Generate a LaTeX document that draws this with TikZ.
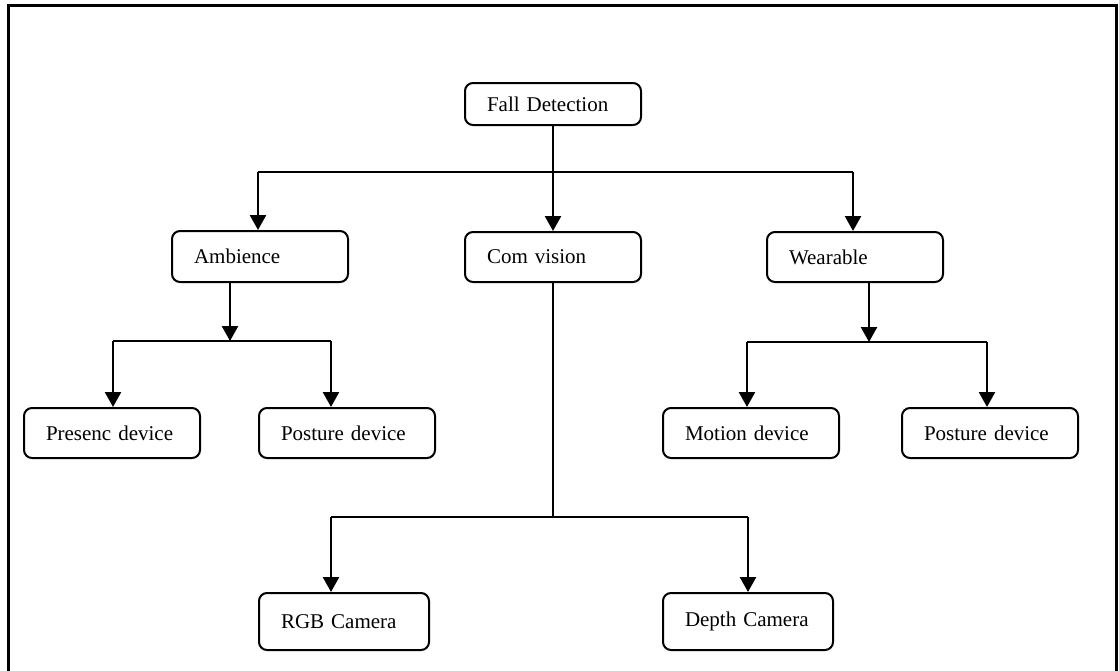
\documentclass[tikz,border=0pt]{standalone}
\usepackage{fontspec}
\setmainfont{Liberation Serif}
\usetikzlibrary{arrows.meta}
\begin{document}
\begin{tikzpicture}[x=1pt,y=-1pt,
  box/.style={draw, line width=2pt, rounded corners=8pt, anchor=north west,
    inner xsep=22pt, inner ysep=0pt, text width=132pt, align=left,
    font=\fontsize{21}{25}\selectfont},
  cambox/.style={box, text width=126pt},
  conn/.style={line width=2.5pt},
  arr/.style={conn, -{Triangle[length=15pt,width=16pt]}},
  frame/.style={line width=3pt}]
\useasboundingbox (0,0) rectangle (1119,670);
% outer frame
\coordinate (f1) at (8,672);
\coordinate (f2) at (8,5);
\coordinate (f3) at (1116,5);
\coordinate (f4) at (1116,672);
\draw[frame] (f1) -- (f2) -- (f3) -- (f4);
% nodes
\node[box, minimum height=42pt] (fd) at (464,82) {Fall Detection};
\node[box, minimum height=51pt] (amb) at (171,230) {Ambience};
\node[box, minimum height=50pt] (com) at (464,231) {Com vision};
\node[box, minimum height=50pt] (wear) at (766,231) {Wearable};
\node[box, minimum height=50pt] (pres) at (23,407) {Presenc device};
\node[box, minimum height=50pt] (post1) at (258,407) {Posture device};
\node[box, minimum height=50pt] (mot) at (662,407) {Motion device};
\node[box, minimum height=50pt] (post2) at (901,407) {Posture device};
\node[cambox, minimum height=57pt] (rgb) at (258,592) {RGB Camera};
\node[cambox, minimum height=57pt] (depth) at (662,592) {Depth Camera};
% top level
\coordinate (t1) at (258,172);
\coordinate (t2) at (853,172);
\draw[conn] (t1) -- (t2);
\draw[arr] (fd.south) -- (com.north);
\draw[arr] (t1) -- (t1 |- amb.north);
\draw[arr] (t2) -- (t2 |- wear.north);
% ambience branch
\coordinate (a0) at (230,341);
\coordinate (a1) at (113,341);
\coordinate (a2) at (331,341);
\draw[arr] (a0 |- amb.south) -- (a0);
\draw[conn] (a1) -- (a2);
\draw[arr] (a1) -- (a1 |- pres.north);
\draw[arr] (a2) -- (a2 |- post1.north);
% wearable branch
\coordinate (w0) at (869,342);
\coordinate (w1) at (747,342);
\coordinate (w2) at (987,342);
\draw[arr] (w0 |- wear.south) -- (w0);
\draw[conn] (w1) -- (w2);
\draw[arr] (w1) -- (w1 |- mot.north);
\draw[arr] (w2) -- (w2 |- post2.north);
% com vision branch
\coordinate (c1) at (331,517);
\coordinate (c2) at (748,517);
\draw[conn] (com.south) -- (com.south |- c1);
\draw[conn] (c1) -- (c2);
\draw[arr] (c1) -- (c1 |- rgb.north);
\draw[arr] (c2) -- (c2 |- depth.north);
\end{tikzpicture}
\end{document}
